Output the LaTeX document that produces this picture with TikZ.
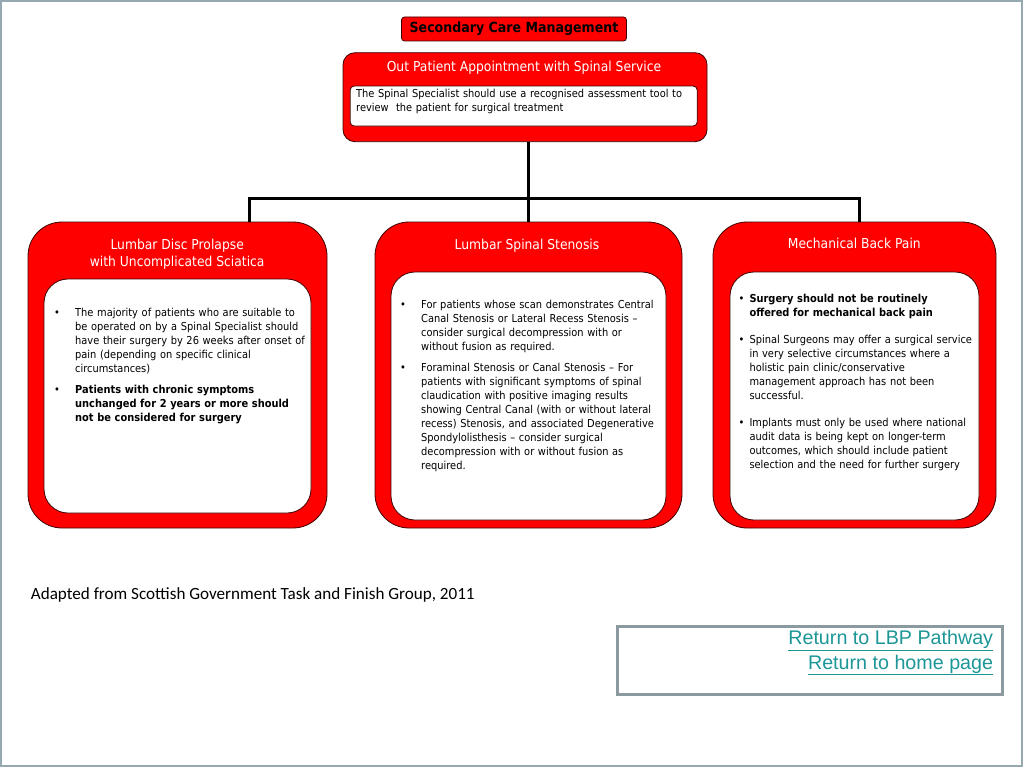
\documentclass[tikz,border=0pt]{standalone}
\usepackage{fontspec}
\setmainfont{DejaVu Sans}[FakeStretch=0.9]
\newfontfamily\calibri{Carlito}
\newfontfamily\arial{Liberation Sans}
\usetikzlibrary{positioning}
\definecolor{slidered}{RGB}{255,0,0}
\definecolor{edgered}{RGB}{60,0,0}
\definecolor{framegray}{RGB}{150,168,176}
\definecolor{linkgray}{RGB}{138,154,158}
\definecolor{linkteal}{RGB}{28,150,150}
\newcommand{\bodyfont}{\fontsize{10.95}{14}\selectfont}
\newcommand{\headfont}{\fontsize{13.7}{17.4}\selectfont}
\newcommand{\bul}[2][21pt]{\noindent\hangindent=#1\hangafter=1\makebox[#1][l]{•}#2\par}
\tikzset{panel/.style={draw=edgered, fill=slidered, line width=0.8pt, inner sep=0pt},
	banner/.style={panel, rounded corners=3pt, minimum width=225pt, minimum height=24pt,
		font=\bfseries\fontsize{14}{15}\selectfont, text=black},
	headbox/.style={panel, rounded corners=12pt, minimum width=364pt, minimum height=89pt},
	catbox/.style={panel, rounded corners=34pt, minimum height=306pt},
	sheet/.style={draw=edgered, fill=white, line width=0.8pt, rounded corners=24pt, inner sep=0pt},
	heading/.style={anchor=base, text=white, font=\headfont, align=center, inner sep=0pt},
	bodytext/.style={anchor=base west, inner sep=0pt, text width=340pt, align=left, font=\bodyfont,
		execute at begin node={\setlength{\parskip}{#1}}},
	bar/.style={line width=3pt}}

\begin{document}
\begin{tikzpicture}[x=1pt,y=-1pt]
	\useasboundingbox (0,0) rectangle (1024,768);
	\draw[framegray, line width=2pt] (1,1) rectangle (1022,766);
	
	\node[banner] (scm) at (514,29) {Secondary Care Management};
	
	\node[headbox] (opa) at (525,97.2) {};
	\node[sheet, rounded corners=4pt, minimum width=347pt, minimum height=40pt] (opasheet) at (523.7,106) {};
	\node[heading] (opatitle) at (524,71.5) {Out Patient Appointment with Spinal Service};
	\node[bodytext=0pt] (opatext) at (356,97.3) {The Spinal Specialist should use a recognised assessment tool to\\
		review\ \ the patient for surgical treatment};
	
	\node[catbox, minimum width=299pt] (ldp) at (177.5,375) {};
	\node[catbox, minimum width=307pt] (lss) at (528.5,375) {};
	\node[catbox, minimum width=283pt] (mbp) at (854.5,375) {};
	\node[sheet, minimum width=267pt, minimum height=234pt] (ldpsheet) at (177.5,396) {};
	\node[sheet, minimum width=275pt, minimum height=248pt] (lsssheet) at (528.5,396) {};
	\node[sheet, minimum width=249pt, minimum height=248pt] (mbpsheet) at (854.5,396) {};
	
	\node[heading] (ldptitle) at (177.2,266.7) {Lumbar Disc Prolapse\\with Uncomplicated Sciatica};
	\node[heading] (lsstitle) at (527,249.3) {Lumbar Spinal Stenosis};
	\node[heading] (mbptitle) at (854.3,248.3) {Mechanical Back Pain};
	
	\coordinate (busL) at (249,198);
	\coordinate (busR) at (859,198);
	\draw[bar] (opa.south -| lss.north) -- (lss.north);
	\draw[bar] (ldp.north -| busL) -- (busL) -- (busR) -- (mbp.north -| busR);
	
	\node[bodytext=6.7pt] (ldptext) at (54,316.5) {%
		\bul{The majority of patients who are suitable to\newline be operated on by a Spinal Specialist should\newline
			have their surgery by 26 weeks after onset of\newline pain (depending on specific clinical\newline circumstances)}
		\bul{\textbf{Patients with chronic symptoms\newline unchanged for 2 years or more should\newline
			not be considered for surgery}}};
	\node[bodytext=6.7pt] (lsstext) at (400,308.3) {%
		\bul{For patients whose scan demonstrates Central\newline Canal Stenosis or Lateral Recess Stenosis –\newline
			consider surgical decompression with or\newline without fusion as required.}
		\bul{Foraminal Stenosis or Canal Stenosis – For\newline patients with significant symptoms of spinal\newline
			claudication with positive imaging results\newline showing Central Canal (with or without lateral\newline
			recess) Stenosis, and associated Degenerative\newline Spondylolisthesis – consider surgical\newline
			decompression with or without fusion as\newline required.}};
	\node[bodytext=13.3pt] (mbptext) at (738.3,302.3) {%
		\bul[11pt]{\textbf{Surgery should not be routinely\newline offered for mechanical back pain}}
		\bul[11pt]{Spinal Surgeons may offer a surgical service\newline in very selective circumstances where a\newline
			holistic pain clinic/conservative\newline management approach has not been\newline successful.}
		\bul[11pt]{Implants must only be used where national\newline audit data is being kept on longer-term\newline
			outcomes, which should include patient\newline selection and the need for further surgery}};
	
	\node[anchor=base west, inner sep=0pt, font=\calibri\fontsize{17.1}{21}\selectfont] (source) at (30.7,599)
		{Adapted from Scottish Government Task and Finish Group, 2011};
	
	\node[draw=linkgray, line width=3pt, minimum width=385pt, minimum height=68pt, inner sep=0pt] (linkbox) at (810.2,660.5) {};
	\node[anchor=base east, align=right, inner sep=0pt, text=linkteal, font=\arial\fontsize{19.7}{24.7}\selectfont]
		(links) at (993.3,669) {\underline{Return to LBP Pathway}\\\underline{Return to home page}};
\end{tikzpicture}
\end{document}
